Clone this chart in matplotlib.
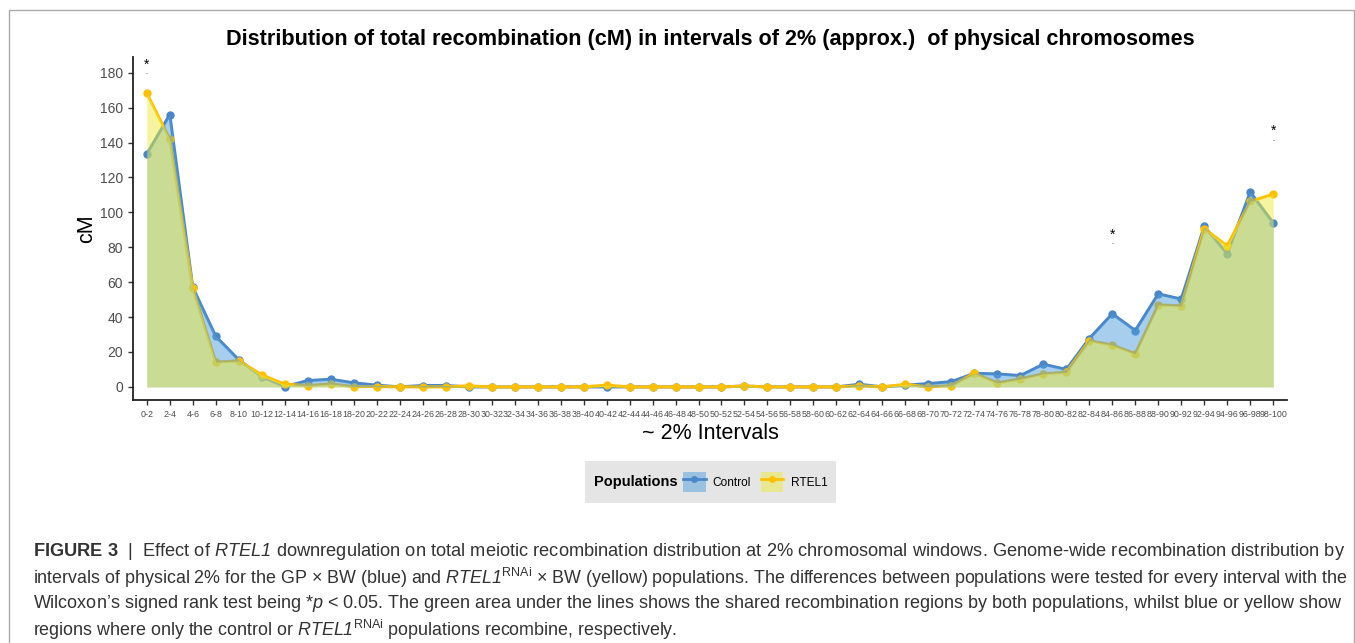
import matplotlib
matplotlib.use("Agg")
import matplotlib.pyplot as plt
from matplotlib import font_manager
from matplotlib.patches import Patch, Rectangle
from matplotlib.lines import Line2D

# ~2% physical intervals
intervals = [
    "0-2", "2-4", "4-6", "6-8", "8-10", "10-12", "12-14", "14-16", "16-18", "18-20",
    "20-22", "22-24", "24-26", "26-28", "28-30", "30-32", "32-34", "34-36", "36-38", "38-40",
    "40-42", "42-44", "44-46", "46-48", "48-50", "50-52", "52-54", "54-56", "56-58", "58-60",
    "60-62", "62-64", "64-66", "66-68", "68-70", "70-72", "72-74", "74-76", "76-78", "78-80",
    "80-82", "82-84", "84-86", "86-88", "88-90", "90-92", "92-94", "94-96", "96-98", "98-100",
]

control_cm = [
    133.4, 156.0, 57.0, 29.0, 15.5, 5.9, 0.2, 3.6, 4.4, 2.3,
    1.0, 0.0, 0.8, 0.8, 0.0, 0.0, 0.0, 0.0, 0.0, 0.0,
    0.0, 0.0, 0.0, 0.0, 0.0, 0.0, 0.5, 0.0, 0.0, 0.0,
    0.0, 1.5, 0.0, 1.0, 1.9, 3.0, 7.8, 7.4, 6.5, 13.0,
    10.0, 27.7, 41.9, 32.3, 53.3, 50.3, 91.9, 76.3, 111.6, 93.9,
]

rtel1_cm = [
    168.2, 142.0, 56.5, 14.2, 14.9, 6.9, 1.5, 0.8, 1.7, 0.2,
    0.2, 0.0, 0.0, 0.0, 0.6, 0.0, 0.0, 0.0, 0.0, 0.0,
    1.0, 0.0, 0.0, 0.0, 0.0, 0.0, 0.5, 0.0, 0.0, 0.0,
    0.0, 0.6, 0.0, 1.5, 0.0, 0.8, 7.8, 2.3, 4.6, 7.5,
    8.4, 26.5, 24.0, 19.0, 47.0, 46.4, 90.6, 80.8, 106.3, 110.3,
]

# significant intervals (Wilcoxon, p < 0.05) and label heights
signif_idx = [0, 42, 49]
signif_y = [184.6, 87.2, 146.8]
signif_dot_y = [178.0, 80.5, 140.0]

caption_lines = [
    r"$\mathbf{FIGURE\ 3}$  |  Effect of $\mathsf{RTEL1}$ downregulation on total meiotic recombination distribution at 2% chromosomal windows. Genome-wide recombination distribution by",
    r"intervals of physical 2% for the GP × BW (blue) and $\mathsf{RTEL1}^{\mathrm{RNAi}}$ × BW (yellow) populations. The differences between populations were tested for every interval with the",
    r"Wilcoxon’s signed rank test being *$\mathsf{p}$ < 0.05. The green area under the lines shows the shared recombination regions by both populations, whilst blue or yellow show",
    r"regions where only the control or $\mathsf{RTEL1}^{\mathrm{RNAi}}$ populations recombine, respectively.",
]

BLUE_LINE = "#4A86C8"
YELLOW_LINE = "#FFC000"
BLUE_FILL = "#51A1DD"
YELLOW_FILL = "#EEEA3C"

names = {f.name for f in font_manager.fontManager.ttflist}
cap_font = "Liberation Sans Narrow" if "Liberation Sans Narrow" in names else "Liberation Sans"

plt.rcParams["font.family"] = ["Liberation Sans", "DejaVu Sans"]
plt.rcParams["mathtext.fontset"] = "custom"
plt.rcParams["mathtext.rm"] = cap_font
plt.rcParams["mathtext.it"] = cap_font + ":italic"
plt.rcParams["mathtext.sf"] = cap_font + ":italic"
plt.rcParams["mathtext.bf"] = cap_font + ":bold"

W, H = 1355, 643
fig = plt.figure(figsize=(W / 100, H / 100), dpi=100)
ax = fig.add_axes([133 / W, 1 - 400 / H, 1154 / W, 343 / H])

x = list(range(len(intervals)))

ax.plot(x, control_cm, color=BLUE_LINE, lw=2.2, marker="o", ms=5, zorder=2)
ax.plot(x, rtel1_cm, color=YELLOW_LINE, lw=2.2, marker="o", ms=5, zorder=2)
ax.fill_between(x, 0, control_cm, color=BLUE_FILL, alpha=0.5, lw=0, zorder=3)
ax.fill_between(x, 0, rtel1_cm, color=YELLOW_FILL, alpha=0.5, lw=0, zorder=4)

for i, ys, yd in zip(signif_idx, signif_y, signif_dot_y):
    ax.text(i, ys, "*", ha="center", va="center", fontsize=10, color="black", zorder=5)
    ax.text(i, yd, ".", ha="center", va="bottom", fontsize=5, color="black", zorder=5)

ax.set_xlim(-0.6, 49.6)
ax.set_ylim(-7.5, 189)
ax.set_xticks(x)
ax.set_xticklabels(intervals, fontsize=6.4, color="#4D4D4D")
ax.set_yticks(range(0, 181, 20))
ax.tick_params(axis="y", labelsize=10, labelcolor="#4D4D4D")
ax.tick_params(length=3.8, width=1, color="#333333")

for side in ["top", "right"]:
    ax.spines[side].set_visible(False)
for side in ["left", "bottom"]:
    ax.spines[side].set_linewidth(1.3)
    ax.spines[side].set_color("#222222")

ax.set_xlabel("~ 2% Intervals", fontsize=15.5, labelpad=3)
ax.set_ylabel("cM", fontsize=15.5, labelpad=2)
ax.set_title("Distribution of total recombination (cM) in intervals of 2% (approx.)  of physical chromosomes",
             fontsize=15.6, fontweight="bold", pad=9)

# legend panel
fig.add_artist(Rectangle((585 / W, 1 - 503 / H), 251 / W, 42 / H, transform=fig.transFigure,
                         facecolor="#E5E5E5", edgecolor="none", zorder=0))
fig.text(594 / W, 1 - 482 / H, "Populations", fontsize=10.5, fontweight="bold", va="center", ha="left")
handles = [
    (Patch(facecolor=BLUE_FILL, alpha=0.5), Line2D([], [], color=BLUE_LINE, lw=2, marker="o", ms=4)),
    (Patch(facecolor=YELLOW_FILL, alpha=0.5), Line2D([], [], color=YELLOW_LINE, lw=2, marker="o", ms=4)),
]
fig.legend(handles, ["Control", "RTEL1"], loc="center left", bbox_to_anchor=(683 / W, 1 - 482 / H),
           ncol=2, frameon=False, fontsize=8.6, handlelength=1.9, handleheight=2.1,
           handletextpad=0.6, columnspacing=0.8, borderpad=0, borderaxespad=0)

# figure frame and caption
fig.add_artist(Rectangle((9 / W, -0.02), 1345 / W, 1.02 - 10 / H, transform=fig.transFigure,
                         fill=False, edgecolor="#AAAAAA", lw=1))

# caption lines are justified to the same width in the reference: fit each full line
renderer = fig.canvas.get_renderer()
target_w = 1310
base_fs = 13.0
fitted = []
for k, line in enumerate(caption_lines):
    t = fig.text(33 / W, 1 - (552 + 26 * k) / H, line, fontsize=base_fs, color="#333333",
                 family=cap_font, ha="left", va="center")
    if k < len(caption_lines) - 1:
        w = t.get_window_extent(renderer).width
        t.set_fontsize(base_fs * target_w / w)
        fitted.append(base_fs * target_w / w)
    else:
        t.set_fontsize(min(fitted))

fig.savefig("out.png", dpi=100)
